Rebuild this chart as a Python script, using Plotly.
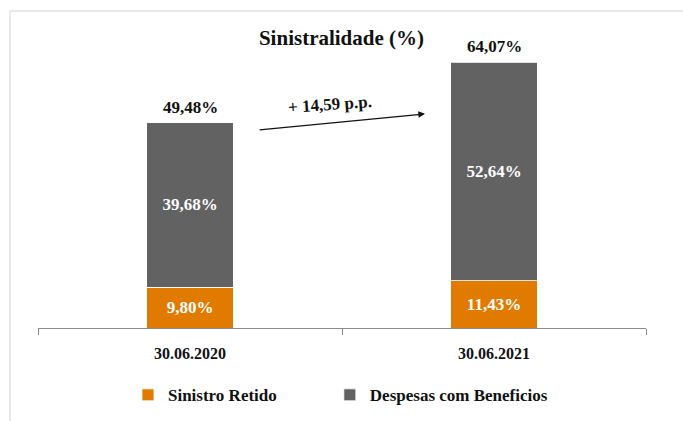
import plotly.graph_objects as go

# Data
periods = ["30.06.2020", "30.06.2021"]
sinistro_retido = [9.80, 11.43]
despesas_beneficios = [39.68, 52.64]
series_names = ["Sinistro Retido", "Despesas com Beneficios"]
title_text = "Sinistralidade (%)"

totals = [round(a + b, 2) for a, b in zip(sinistro_retido, despesas_beneficios)]
delta = round(totals[1] - totals[0], 2)

ORANGE = "#E07B00"
GRAY = "#626262"
SERIF = "Liberation Serif"
INK = "#111111"

fig = go.Figure()

# One legend box per series so each key sits at its own position
legend_refs = ["legend", "legend2"]
for name, vals, color, lg in zip(series_names,
                                 [sinistro_retido, despesas_beneficios],
                                 [ORANGE, GRAY], legend_refs):
    fig.add_trace(go.Bar(
        x=periods,
        y=vals,
        name=f"<b>{name}</b>",
        legend=lg,
        width=0.286,
        marker=dict(color=color, line=dict(color="white", width=0.8)),
        texttemplate="<b>%{y:.2f}%</b>",
        textposition="inside",
        insidetextanchor="middle",
        textfont=dict(family=SERIF, size=17, color="white"),
        constraintext="none",
        hoverinfo="skip",
    ))

# Totals above each stack
def fmt(v):
    return f"{v:.2f}".replace(".", ",")

for p, t in zip(periods, totals):
    fig.add_annotation(
        x=p, y=t, text=f"<b>{fmt(t)}%</b>", showarrow=False,
        yanchor="bottom", yshift=4,
        font=dict(family=SERIF, size=17, color=INK),
    )

# Growth arrow between the stacks
fig.add_annotation(
    x=0.773, y=51.6, ax=0.224, ay=47.7,
    xref="x", yref="y", axref="x", ayref="y",
    text="", showarrow=True, arrowhead=2, arrowsize=1.1,
    arrowwidth=1.2, arrowcolor=INK,
)
fig.add_annotation(
    x=0.46, y=53.9, xref="x", yref="y",
    text=f"<b>+ {fmt(delta)} p.p.</b>", showarrow=False, textangle=-4,
    font=dict(family=SERIF, size=17, color=INK),
)

# Light frame around the chart
frame = dict(type="line", xref="paper", yref="paper",
             line=dict(color="#E2E2E2", width=1.5), layer="below")
fig.add_shape(x0=-0.046, x1=1.2, y0=1.06, y1=1.06, **frame)
fig.add_shape(x0=-0.046, x1=-0.046, y0=1.06, y1=-0.35, **frame)

legend_style = dict(
    orientation="h", xanchor="left", y=-0.225, yanchor="middle",
    font=dict(family=SERIF, size=17, color=INK),
    bgcolor="rgba(0,0,0,0)",
)

fig.update_layout(
    barmode="stack",
    separators=",.",
    width=683, height=421,
    margin=dict(l=38, r=37, t=29, b=93, autoexpand=False),
    paper_bgcolor="white", plot_bgcolor="white",
    title=dict(
        text=f"<b>{title_text}</b>", x=0.5, xanchor="center", y=1 - 38 / 421, yanchor="middle",
        font=dict(family=SERIF, size=21, color=INK),
    ),
    showlegend=True,
    legend=dict(x=0.148, **legend_style),
    legend2=dict(x=0.480, **legend_style),
    xaxis=dict(
        range=[-0.5, 1.5],
        showline=True, linecolor="#8C8C8C", linewidth=1.2,
        ticks="outside", tickson="boundaries", ticklen=6, tickcolor="#8C8C8C",
        ticklabelstandoff=11,
        showgrid=False, zeroline=False,
        tickfont=dict(family=SERIF, size=16, color=INK),
        tickvals=periods, ticktext=[f"<b>{p}</b>" for p in periods],
    ),
    yaxis=dict(
        range=[0, 72.05], visible=False, showgrid=False, zeroline=False,
    ),
)

fig.write_html("out.html")
